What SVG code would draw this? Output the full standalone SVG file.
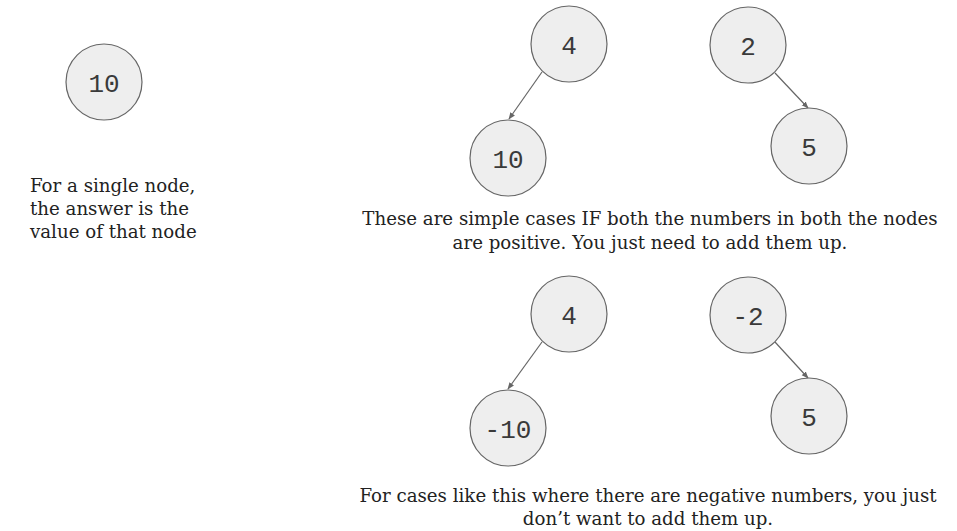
<svg xmlns="http://www.w3.org/2000/svg" width="957" height="531" viewBox="0 0 957 531">
<style>
.n circle{fill:#eeeeee;stroke:#666666;stroke-width:1.2}
.n text{font-family:"Liberation Mono",monospace;font-size:26px;fill:#3a3a3a;text-anchor:middle}
.lbl{font-family:"DejaVu Serif",serif;font-size:18.2px;fill:#222222}
.c line{stroke:#666666;stroke-width:1.2;marker-end:url(#ah)}
</style>
<defs>
<marker id="ah" viewBox="0 0 10 10" refX="9" refY="5" markerWidth="7" markerHeight="7" orient="auto" markerUnits="userSpaceOnUse">
<path d="M0,1 L10,5 L0,9 Z" fill="#666666"/>
</marker>
</defs>
<rect width="957" height="531" fill="#ffffff"/>
<g class="c">
<line x1="542" y1="72" x2="509" y2="119"/>
<line x1="775" y1="73" x2="808" y2="108"/>
<line x1="542" y1="342" x2="508" y2="389"/>
<line x1="775" y1="342" x2="808" y2="378"/>
</g>
<g id="n10" class="n"><circle cx="104" cy="82" r="38"/><text x="104" y="92">10</text></g>
<g id="n4a" class="n"><circle cx="569" cy="44" r="38"/><text x="569" y="54">4</text></g>
<g id="n10b" class="n"><circle cx="508" cy="158" r="38"/><text x="508" y="168">10</text></g>
<g id="n2" class="n"><circle cx="748" cy="45" r="38"/><text x="748" y="55">2</text></g>
<g id="n5a" class="n"><circle cx="809" cy="146" r="38"/><text x="809" y="156">5</text></g>
<g id="n4b" class="n"><circle cx="569" cy="314" r="38"/><text x="569" y="324">4</text></g>
<g id="nm10" class="n"><circle cx="508" cy="428" r="38"/><text x="508" y="438">-10</text></g>
<g id="nm2" class="n"><circle cx="748" cy="315" r="38"/><text x="748" y="325">-2</text></g>
<g id="n5b" class="n"><circle cx="809" cy="416" r="38"/><text x="809" y="426">5</text></g>
<g id="t1" class="lbl">
<text x="30" y="192">For a single node,</text>
<text x="30" y="215">the answer is the</text>
<text x="30" y="238">value of that node</text>
</g>
<g id="t2" class="lbl" text-anchor="middle">
<text x="650" y="225">These are simple cases IF both the numbers in both the nodes</text>
<text x="650" y="249">are positive. You just need to add them up.</text>
</g>
<g id="t3" class="lbl" text-anchor="middle">
<text x="648" y="502">For cases like this where there are negative numbers, you just</text>
<text x="648" y="525">don’t want to add them up.</text>
</g>
</svg>
